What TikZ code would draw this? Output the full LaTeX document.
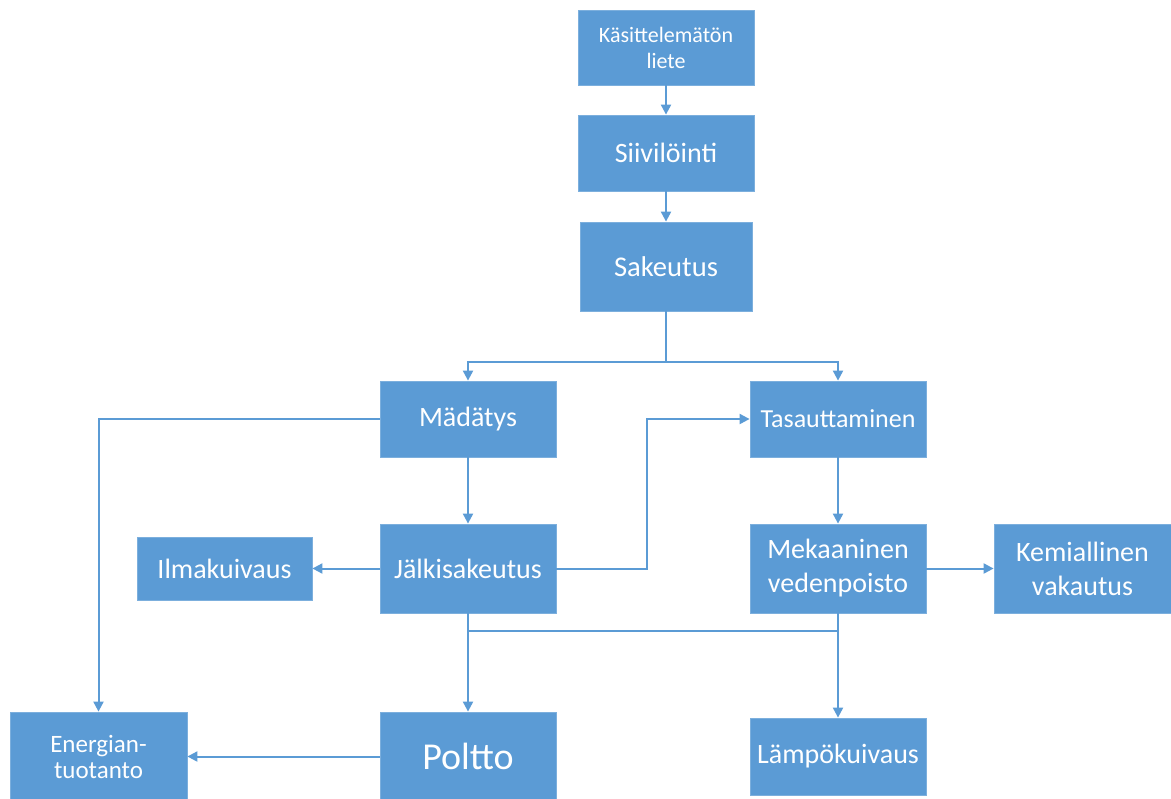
\documentclass[tikz,border=0pt]{standalone}
\usepackage{fontspec}
\setmainfont{Carlito}
\usepackage{xcolor}
\usetikzlibrary{arrows.meta}
\definecolor{officeblue}{HTML}{5B9BD5}

\begin{document}
\begin{tikzpicture}[
        x=0.5pt, y=-0.5pt,
        box/.style={fill=officeblue, draw=officeblue!80!white, line width=0.4pt, text=white, align=center, inner sep=0pt},
        tall/.style={box, minimum width=88pt, minimum height=44.5pt},
        short/.style={box, minimum width=88pt, minimum height=38pt},
        link/.style={officeblue, line width=1pt},
        arr/.style={link, -{Triangle[length=5pt, width=5pt]}}
    ]
    % Frame
    \clip (0, 0) rectangle (1171, 798);

    % Boxes
    \node[box, minimum width=88pt, minimum height=37.5pt, font=\fontsize{11}{13}\selectfont] (raw) at (666, 47.5) {Käsittelemätön\\liete};
    \node[short, font=\fontsize{14}{16}\selectfont] (sieve) at (666, 153) {Siivilöinti};
    \node[box, minimum width=86pt, minimum height=44.5pt, font=\fontsize{14.3}{16}\selectfont] (thick) at (666, 266.5) {Sakeutus};
    \node[short, font=\fontsize{14}{16}\selectfont] (digest) at (468, 419) {Mädätys};
    \node[short, font=\fontsize{13}{15}\selectfont] (equal) at (838, 419) {Tasauttaminen};
    \node[tall, font=\fontsize{14}{16}\selectfont] (post) at (468, 568.5) {Jälkisakeutus};
    \node[box, minimum width=87.5pt, minimum height=31.5pt, font=\fontsize{14}{16}\selectfont] (air) at (224.5, 568.5) {Ilmakuivaus};
    \node[tall, font=\fontsize{14}{17}\selectfont] (mech) at (838, 568.5) {Mekaaninen\\vedenpoisto};
    \node[tall, minimum width=88.5pt, font=\fontsize{14}{17}\selectfont] (chem) at (1082.5, 568.5) {Kemiallinen\\vakautus};
    \node[tall, minimum width=88.5pt, font=\fontsize{12.5}{13}\selectfont] (energy) at (98.5, 756.5) {Energian-\\tuotanto};
    \node[tall, font=\fontsize{19}{21}\selectfont] (burn) at (468, 756.5) {Poltto};
    \node[box, minimum width=88pt, minimum height=38.5pt, font=\fontsize{14}{16}\selectfont] (heat) at (838, 756.5) {Lämpökuivaus};

    % Junctions
    \coordinate (split) at (666, 362);
    \coordinate (merge) at (468, 631);

    % Connectors
    \draw[arr] (raw) -- (sieve);
    \draw[arr] (sieve) -- (thick);
    \draw[link] (thick.south) -- (split);
    \draw[arr] (split) -| (digest.north);
    \draw[arr] (split) -| (equal.north);
    \draw[arr] (digest.west) -| (energy.north);
    \draw[arr] (digest) -- (post);
    \draw[arr] (post) -- (air);
    \draw[arr] (post.east) -- ++(91, 0) |- (equal.west);
    \draw[arr] (equal) -- (mech);
    \draw[arr] (mech) -- (chem);
    \draw[arr] (post) -- (burn);
    \draw[arr] (mech) -- (heat);
    \draw[link] (merge) -- (merge -| mech.south);
    \draw[arr] (burn) -- (energy);
\end{tikzpicture}
\end{document}
